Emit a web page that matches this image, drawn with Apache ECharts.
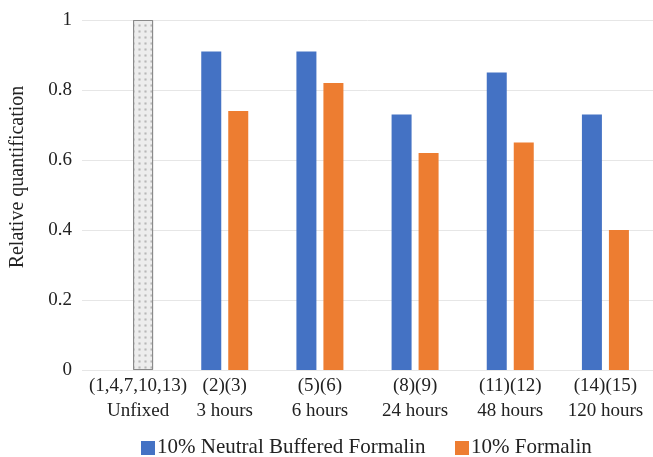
<!DOCTYPE html>
<html>
<head>
<meta charset="utf-8">
<script src="https://cdn.jsdelivr.net/npm/echarts@6/dist/echarts.min.js"></script>
<style>
html,body{margin:0;padding:0;background:#fff;}
#chart{width:653px;height:457px;}
</style>
</head>
<body>
<div id="chart"></div>
<script>
// ---- data ----
var categories = ['Unfixed', '3 hours', '6 hours', '24 hours', '48 hours', '120 hours'];
var sampleIds = ['(1,4,7,10,13)', '(2)(3)', '(5)(6)', '(8)(9)', '(11)(12)', '(14)(15)'];
var unfixedValue = 1.0;
var nbfValues = [null, 0.91, 0.91, 0.73, 0.85, 0.73];
var formalinValues = [null, 0.74, 0.82, 0.62, 0.65, 0.40];
var seriesNames = ['10% Neutral Buffered Formalin', '10% Formalin'];
var seriesColors = ['#4472C4', '#ED7D31'];
var yTicks = [0, 0.2, 0.4, 0.6, 0.8, 1];

var FONT = '"Liberation Serif", serif';

var unfixedStyle = {
  color: '#ededed',
  borderColor: '#8a8a8a',
  borderWidth: 1,
  decal: {
    symbol: 'rect',
    symbolSize: 0.7,
    dashArrayX: 3,
    dashArrayY: 3,
    color: 'rgba(140,140,140,0.55)'
  }
};

var nbfData = nbfValues.map(function (v) { return v === null ? '-' : v; });
var formalinData = formalinValues.map(function (v, i) {
  if (i === 0) return { value: unfixedValue, itemStyle: unfixedStyle };
  return v === null ? '-' : v;
});

// legend drawn as graphic (icon + serif text)
var legendSlots = [{ x: 141 }, { x: 455 }];
var legendGraphics = [];
seriesNames.forEach(function (n, i) {
  legendGraphics.push({
    type: 'rect', left: legendSlots[i].x, top: 441,
    shape: { width: 14, height: 14 }, style: { fill: seriesColors[i] }, silent: true
  });
  legendGraphics.push({
    type: 'text', left: legendSlots[i].x + 16, top: 437,
    style: { text: n, fontFamily: 'Liberation Serif', fontSize: 21, fill: '#222' }, silent: true
  });
});

var chart = echarts.init(document.getElementById('chart'), null, { renderer: 'canvas' });
chart.setOption({
  animation: false,
  backgroundColor: '#ffffff',
  textStyle: { fontFamily: FONT },
  grid: { left: 82, right: 0, top: 20, bottom: 87, containLabel: false },
  legend: { show: false, data: seriesNames },
  graphic: legendGraphics,
  xAxis: {
    type: 'category',
    data: categories,
    axisLine: { show: false },
    axisTick: { show: false },
    axisLabel: {
      interval: 0,
      margin: 4,
      fontFamily: FONT,
      fontSize: 19,
      lineHeight: 25,
      color: '#222',
      formatter: function (value, index) {
        if (index === 0) {
          return '{u|' + sampleIds[index] + '}\n{u|' + value + '}';
        }
        return sampleIds[index] + '\n' + value;
      },
      rich: {
        u: { fontFamily: FONT, fontSize: 19, lineHeight: 25, color: '#222', padding: [0, 0, 0, 17] }
      }
    }
  },
  yAxis: {
    type: 'value',
    min: 0,
    max: 1,
    interval: 0.2,
    name: 'Relative quantification',
    nameLocation: 'middle',
    nameGap: 54,
    nameTextStyle: { fontFamily: FONT, fontSize: 20, color: '#222', padding: [0, 0, 0, 36] },
    axisLine: { show: false },
    axisTick: { show: false },
    axisLabel: {
      margin: 10,
      fontFamily: FONT,
      fontSize: 19,
      color: '#222',
      formatter: function (v) {
        var t = yTicks.filter(function (x) { return Math.abs(x - v) < 1e-9; });
        return t.length ? String(t[0]) : '';
      }
    },
    splitLine: { lineStyle: { color: '#e6e6e6', width: 1 } }
  },
  series: [
    {
      name: seriesNames[0],
      type: 'bar',
      data: nbfData,
      barWidth: 20,
      barGap: '35%',
      itemStyle: { color: seriesColors[0] }
    },
    {
      name: seriesNames[1],
      type: 'bar',
      data: formalinData,
      barWidth: 20,
      barGap: '35%',
      itemStyle: { color: seriesColors[1] }
    }
  ]
});
</script>
</body>
</html>
